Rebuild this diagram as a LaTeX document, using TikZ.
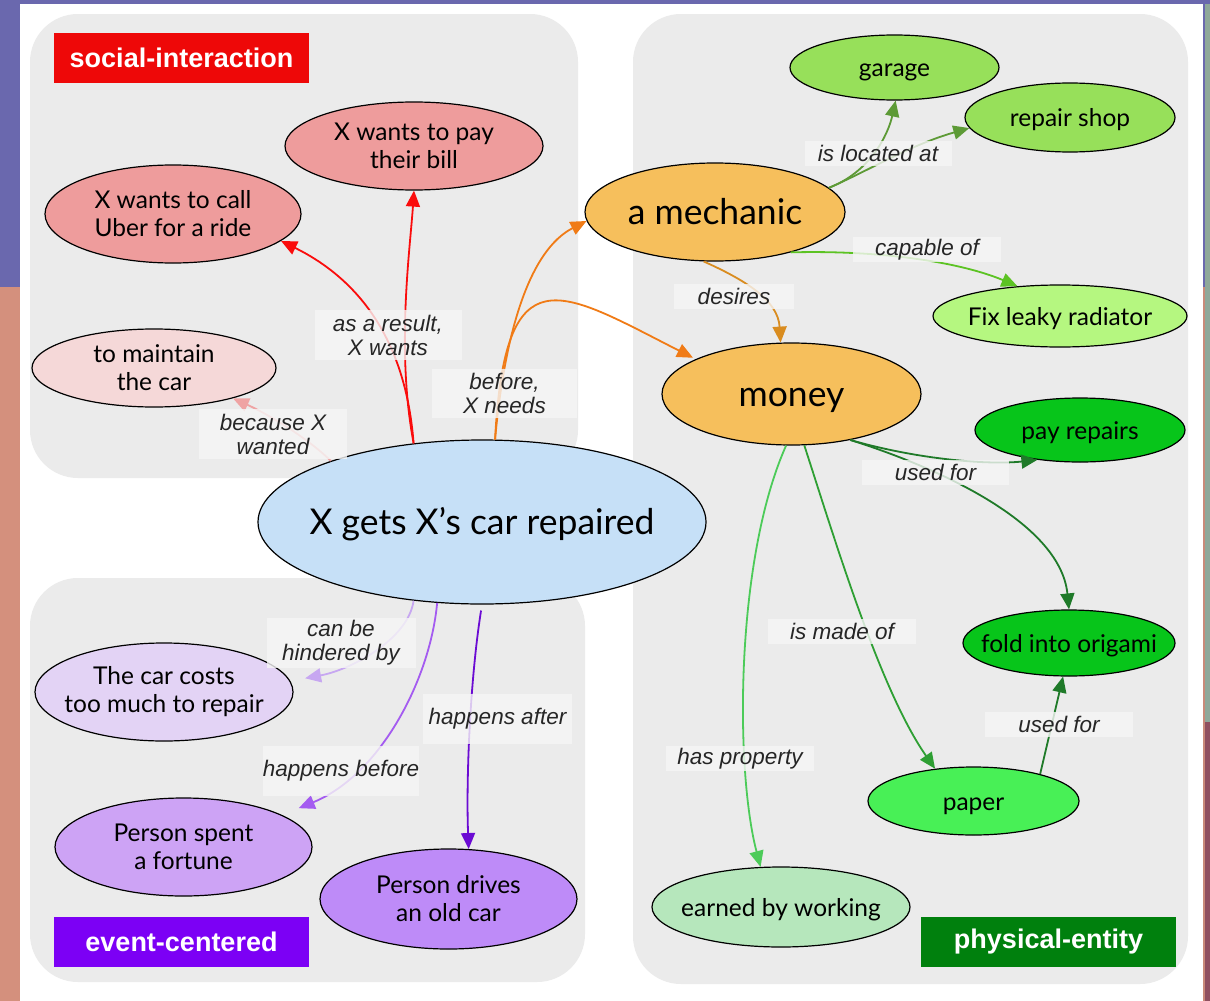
\documentclass[tikz,border=0pt]{standalone}
\usepackage{fontspec}
\setmainfont{Lato}
\newfontfamily\arial{Liberation Sans}
\usetikzlibrary{shapes.geometric,arrows.meta}
\definecolor{bgPurple}{RGB}{106,104,174}
\definecolor{bgSalmon}{RGB}{212,144,125}
\definecolor{bgSalmonB}{RGB}{201,138,122}
\definecolor{bgGreen}{RGB}{143,168,154}
\definecolor{bgMauve}{RGB}{143,80,96}
\definecolor{panel}{RGB}{235,235,235}
\definecolor{lblgray}{RGB}{246,246,246}
\definecolor{tagRed}{RGB}{238,8,8}
\definecolor{tagPurple}{RGB}{124,0,245}
\definecolor{tagGreen}{RGB}{0,128,13}
\definecolor{fPink}{RGB}{238,156,156}
\definecolor{fPinkL}{RGB}{245,216,216}
\definecolor{fBlue}{RGB}{198,224,247}
\definecolor{fOrange}{RGB}{246,191,92}
\definecolor{fLime}{RGB}{151,224,90}
\definecolor{fLimeL}{RGB}{181,247,128}
\definecolor{fGreen}{RGB}{7,197,26}
\definecolor{fPaper}{RGB}{72,240,86}
\definecolor{fEarned}{RGB}{182,231,188}
\definecolor{fLavL}{RGB}{227,211,245}
\definecolor{fLav}{RGB}{205,163,245}
\definecolor{fLavD}{RGB}{190,139,248}
\definecolor{eRed}{RGB}{250,12,12}
\definecolor{ePink}{RGB}{239,163,163}
\definecolor{eOrange}{RGB}{240,123,22}
\definecolor{eDesire}{RGB}{217,140,31}
\definecolor{eOlive}{RGB}{93,154,54}
\definecolor{eLime}{RGB}{92,195,35}
\definecolor{eDark}{RGB}{31,122,41}
\definecolor{eMid}{RGB}{46,159,51}
\definecolor{eLight}{RGB}{76,203,89}
\definecolor{eLavL}{RGB}{199,167,241}
\definecolor{eLav}{RGB}{164,91,240}
\definecolor{eLavD}{RGB}{107,11,211}
\begin{document}
\begin{tikzpicture}[x=1pt,y=-1pt,
  ell/.style={ellipse, draw=black, line width=1.2pt, inner sep=0pt},
  etext/.style={font=\fontsize{24.5}{28}\selectfont, align=center, text=black},
  stext/.style={etext, text height=23.6pt, text depth=5.4pt},
  btext/.style={font=\fontsize{35.5}{40}\selectfont, align=center, text=black,
    text height=33.6pt, text depth=7.8pt},
  lbl/.style={fill=lblgray, fill opacity=0.8, text opacity=1, inner sep=0pt,
    font=\arial\itshape\fontsize{22.5}{24}\selectfont, text=black!85, align=center},
  tag/.style={minimum width=255pt, minimum height=50pt, inner sep=0pt,
    font=\arial\bfseries\fontsize{27}{30}\selectfont, text=white},
  e/.style={line width=1.8pt, -{Triangle[length=16pt,width=14pt]}}]
\useasboundingbox (0,0) rectangle (1210,1001);
% background
\fill[white] (0,0) rectangle (1210,1001);
\fill[bgPurple] (0,0) rectangle (1210,4);
\fill[bgPurple] (0,0) rectangle (20,287);
\fill[bgSalmon] (0,287) rectangle (20,1001);
\fill[bgPurple] (1203,0) rectangle (1205,287);
\fill[bgSalmonB] (1203,287) rectangle (1205,1001);
\fill[bgGreen] (1205,4) rectangle (1210,722);
\fill[bgMauve] (1205,722) rectangle (1210,1001);
% panels
\fill[panel, rounded corners=48pt] (30,14) rectangle (578,478);
\fill[panel, rounded corners=48pt] (30,578) rectangle (585,982);
\fill[panel, rounded corners=48pt] (633,14) rectangle (1188,984);
% tags
\node[tag, fill=tagRed] (tsoc) at (181.5,58) {social-interaction};
\node[tag, fill=tagPurple] (tevt) at (181.5,942) {event-centered};
\node[tag, fill=tagGreen] (tphy) at (1048.5,942) {physical-entity};
% nodes
\node[ell, fill=fBlue, minimum width=448pt, minimum height=164pt, label={[btext]center:X gets X’s car repaired}] (central) at (482,522) {};
\node[ell, fill=fPink, minimum width=258pt, minimum height=88pt, label={[etext]center:{X wants to pay\\their bill}}] (pay) at (414,146) {};
\node[ell, fill=fPink, minimum width=256pt, minimum height=98pt, label={[etext]center:{X wants to call\\Uber for a ride}}] (uber) at (173,214) {};
\node[ell, fill=fPinkL, minimum width=244pt, minimum height=78pt, label={[etext]center:{to maintain\\the car}}] (maint) at (154,368) {};
\node[ell, fill=fOrange, minimum width=260pt, minimum height=98pt, label={[btext]center:a mechanic}] (mech) at (715,212) {};
\node[ell, fill=fOrange, minimum width=259pt, minimum height=102pt, label={[btext]center:money}] (money) at (791.5,394) {};
\node[ell, fill=fLime, minimum width=209pt, minimum height=65pt, label={[stext]center:garage}] (garage) at (894.5,67.5) {};
\node[ell, fill=fLime, minimum width=210pt, minimum height=69pt, label={[stext]center:repair shop}] (shop) at (1070,117.5) {};
\node[ell, fill=fLimeL, minimum width=254pt, minimum height=62pt, label={[stext]center:Fix leaky radiator}] (fix) at (1060,316) {};
\node[ell, fill=fGreen, minimum width=210pt, minimum height=64pt, label={[stext]center:pay repairs}] (prep) at (1080,430) {};
\node[ell, fill=fGreen, minimum width=212pt, minimum height=66pt, label={[stext]center:fold into origami}] (fold) at (1069,643) {};
\node[ell, fill=fPaper, minimum width=211pt, minimum height=68pt, label={[stext]center:paper}] (paper) at (973.5,801) {};
\node[ell, fill=fEarned, minimum width=258pt, minimum height=80pt, label={[stext]center:earned by working}] (earned) at (781,907) {};
\node[ell, fill=fLavL, minimum width=258pt, minimum height=98pt, label={[etext]center:{The car costs\\too much to repair}}] (costs) at (164,692) {};
\node[ell, fill=fLav, minimum width=257pt, minimum height=98pt, label={[etext]center:{Person spent\\a fortune}}] (spent) at (183.5,847) {};
\node[ell, fill=fLavD, minimum width=257pt, minimum height=100pt, label={[etext]center:{Person drives\\an old car}}] (drives) at (448.5,899) {};
% edges
\draw[e, eRed] (central.131) .. controls (405,330) and (350,275) .. (uber.-14);
\draw[e, eRed] (central.131) .. controls (396,350) and (410,250) .. (pay.south);
\draw[e, ePink] (central.158) .. controls (310,440) and (270,415) .. (maint.-21);
\draw[e, eOrange] (central.81) .. controls (505,330) and (530,250) .. (mech.184);
\draw[e, eOrange, shorten >=3pt] (central.81) .. controls (505,250) and (560,290) .. (money.160);
\draw[e, eDesire] (mech.-103) .. controls (745,280) and (778,300) .. (money.102);
\draw[e, eOlive] (mech.12) .. controls (870,172) and (888,135) .. (garage.-88);
\draw[e, eOlive] (mech.12) .. controls (870,170) and (910,145) .. (shop.186);
\draw[e, eLime] (mech.-28) .. controls (880,250) and (960,262) .. (fix.145);
\draw[e, eDark] (money.-38) .. controls (920,460) and (990,465) .. (prep.215);
\draw[e, eDark] (money.-38) .. controls (930,465) and (1060,520) .. (fold.north);
\draw[e, eMid] (money.-76) .. controls (835,540) and (880,690) .. (paper.140);
\draw[e, eLight] (money.-96) .. controls (735,560) and (735,770) .. (earned.117);
\draw[e, eDark] (paper.22) -- (fold.-100);
\draw[e, eLavL, shorten >=15pt] (central.-131) .. controls (408,640) and (350,670) .. (costs.5);
\draw[e, eLav, shorten >=18pt] (central.-119) .. controls (430,680) and (380,775) .. (spent.18);
\draw[e, eLavD, shorten <=6pt] (central.south) .. controls (470,680) and (466,780) .. (drives.68);
% edge labels
\node[lbl, minimum width=147pt, minimum height=50pt] (l1) at (388,335) {as a result,\\X wants};
\node[lbl, minimum width=145pt, minimum height=49pt] (l2) at (504.5,393.5) {before,\\X needs};
\node[lbl, minimum width=148pt, minimum height=50pt] (l3) at (273,434) {because X\\wanted};
\node[lbl, minimum width=147pt, minimum height=25pt] (l4) at (878,153.5) {is located at};
\node[lbl, minimum width=148pt, minimum height=25pt] (l5) at (927,249.5) {capable of};
\node[lbl, minimum width=120pt, minimum height=25pt] (l6) at (734,296.5) {desires};
\node[lbl, minimum width=147pt, minimum height=25pt] (l7) at (935.5,472.5) {used for};
\node[lbl, minimum width=148pt, minimum height=25pt] (l8) at (842,631.5) {is made of};
\node[lbl, minimum width=148pt, minimum height=25pt] (l9) at (740,758.5) {has property};
\node[lbl, minimum width=148pt, minimum height=25pt] (l10) at (1059,724.5) {used for};
\node[lbl, minimum width=149pt, minimum height=50pt] (l11) at (341,643) {can be\\hindered by};
\node[lbl, minimum width=149pt, minimum height=50pt] (l12) at (341,771) {happens before};
\node[lbl, minimum width=149pt, minimum height=50pt] (l13) at (497.5,719) {happens after};
\end{tikzpicture}
\end{document}
